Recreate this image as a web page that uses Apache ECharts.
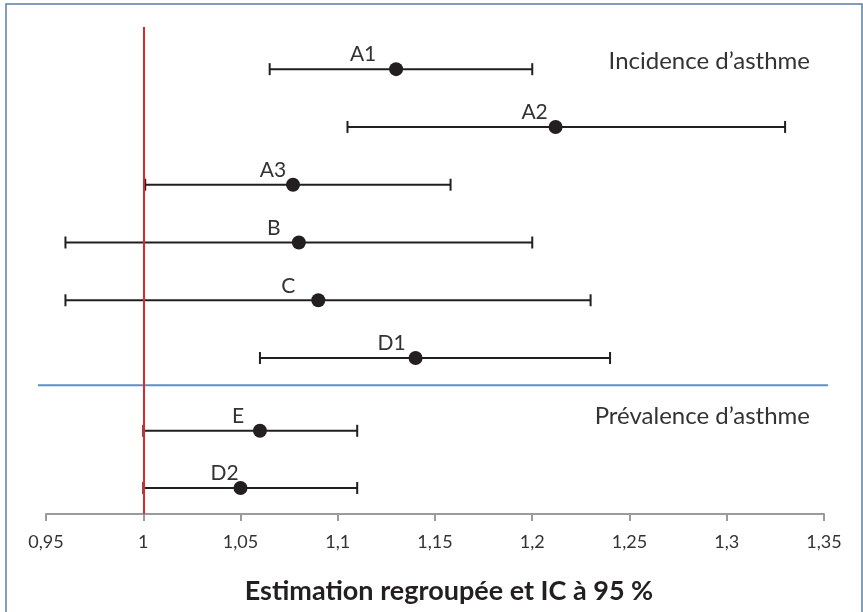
<!DOCTYPE html>
<html>
<head>
<meta charset="utf-8">
<script src="https://cdn.jsdelivr.net/npm/echarts@6/dist/echarts.min.js"></script>
<style>
  html, body { margin: 0; padding: 0; background: #fff; }
  #chart { width: 863px; height: 612px; }
</style>
</head>
<body>
<div id="chart"></div>
<script>
// études et estimations regroupées (IC à 95 %)
const studies = ['A1', 'A2', 'A3', 'B', 'C', 'D1', 'E', 'D2']
const estimates = [1.13, 1.212, 1.077, 1.08, 1.09, 1.14, 1.06, 1.05]
const lower = [1.065, 1.105, 1.001, 0.96, 0.96, 1.06, 1.0, 1.0]
const upper = [1.2, 1.33, 1.158, 1.2, 1.23, 1.24, 1.11, 1.11]
// row of each study on the vertical scale (prevalence group sits lower)
const rows = [0, 1, 2, 3, 4, 5, 6.26, 7.25]
const separatorRow = 5.47
const refValue = 1
const groupLabels = ['Incidence d’asthme', 'Prévalence d’asthme']
const axisTitle = 'Estimation regroupée et IC à 95 %'

// small nudges of the study names, like on the original
const labelDx = [-33, -21, -20, -25, -30, -24, -22, -16]

const ink = '#231f20'
const font = 'Lato'

const chart = echarts.init(document.getElementById('chart'))

const option = {
  animation: false,
  grid: {left: 46, right: 39, top: 27, bottom: 98},
  xAxis: {
    type: 'value',
    min: 0.95,
    max: 1.35,
    interval: 0.05,
    axisLine: {show: true, onZero: false, lineStyle: {color: '#9b9b9b', width: 2}},
    axisTick: {show: true, length: 7, lineStyle: {color: '#9b9b9b', width: 2}},
    splitLine: {show: false},
    axisLabel: {
      fontFamily: font,
      fontSize: 18,
      color: '#333',
      margin: 19,
      formatter: v => String(Number(v.toFixed(2))).replace('.', ',')
    }
  },
  yAxis: {
    type: 'value',
    inverse: true,
    min: -0.73,
    max: 7.7,
    show: false
  },
  graphic: [
    {
      type: 'rect',
      shape: {x: 6, y: 4, width: 856, height: 640},
      style: {fill: 'none', stroke: '#5b7fa8', lineWidth: 1.5},
      silent: true
    },
    {
      type: 'text',
      right: 53,
      top: 49,
      style: {text: groupLabels[0], font: '24px ' + font, fill: '#333'}
    },
    {
      type: 'text',
      right: 53,
      top: 404,
      style: {text: groupLabels[1], font: '24px ' + font, fill: '#333'}
    },
    {
      type: 'text',
      x: 449,
      y: 591,
      style: {
        text: axisTitle,
        font: 'bold 27px ' + font,
        fill: ink,
        textAlign: 'center',
        textVerticalAlign: 'middle'
      }
    }
  ],
  series: [
    // ligne de séparation des deux groupes
    {
      type: 'custom',
      clip: false,
      silent: true,
      data: [[0.95, 1.35, separatorRow]],
      encode: {x: [0, 1], y: 2},
      renderItem: (params, api) => {
        const a = api.coord([api.value(0), api.value(2)])
        const b = api.coord([api.value(1), api.value(2)])
        return {
          type: 'line',
          shape: {x1: a[0] - 8, y1: a[1], x2: b[0] + 4, y2: b[1]},
          style: {stroke: '#5b8fc9', lineWidth: 2}
        }
      }
    },
    // intervalles de confiance
    {
      type: 'custom',
      silent: true,
      data: studies.map((s, i) => [lower[i], upper[i], rows[i]]),
      encode: {x: [0, 1], y: 2},
      renderItem: (params, api) => {
        const a = api.coord([api.value(0), api.value(2)])
        const b = api.coord([api.value(1), api.value(2)])
        const h = 6
        const st = {stroke: ink, lineWidth: 2}
        return {
          type: 'group',
          children: [
            {type: 'line', shape: {x1: a[0], y1: a[1], x2: b[0], y2: b[1]}, style: st},
            {type: 'line', shape: {x1: a[0], y1: a[1] - h, x2: a[0], y2: a[1] + h}, style: st},
            {type: 'line', shape: {x1: b[0], y1: b[1] - h, x2: b[0], y2: b[1] + h}, style: st}
          ]
        }
      },
      markLine: {
        silent: true,
        symbol: 'none',
        label: {show: false},
        lineStyle: {color: '#e3262b', width: 2, type: 'solid'},
        data: [{xAxis: refValue}]
      }
    },
    // estimations
    {
      type: 'scatter',
      symbol: 'circle',
      symbolSize: 14,
      itemStyle: {color: ink, opacity: 1},
      label: {
        show: true,
        position: 'top',
        distance: -3,
        formatter: '{b}',
        fontFamily: font,
        fontSize: 21,
        color: '#333'
      },
      data: studies.map((s, i) => ({
        name: s,
        value: [estimates[i], rows[i]],
        label: {offset: [labelDx[i], 0]}
      }))
    }
  ]
}

chart.setOption(option)
</script>
</body>
</html>
